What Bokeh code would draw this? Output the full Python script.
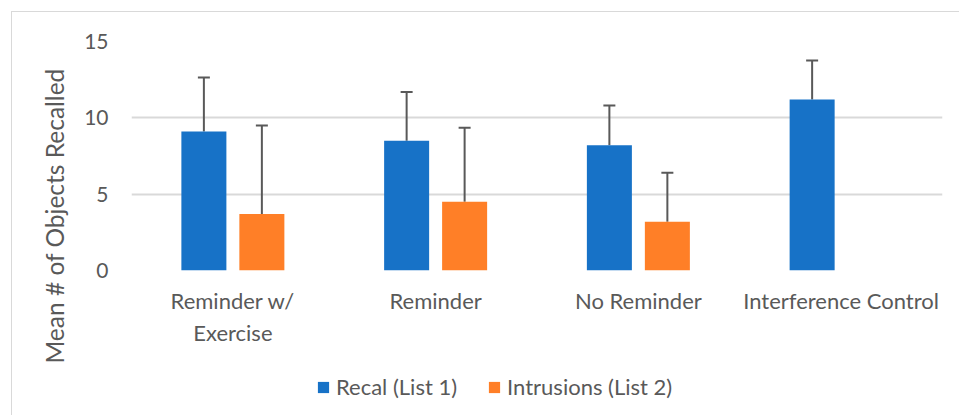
from bokeh.plotting import figure
from bokeh.models import (FactorRange, ColumnDataSource, Whisker, Legend, LegendItem,
                          FixedTicker, TeeHead, Title, Range1d)
from bokeh.layouts import column
from bokeh.transform import dodge
from bokeh.embed import file_html
from bokeh.resources import INLINE

categories = ["Reminder w/\nExercise", "Reminder", "No Reminder", "Interference Control"]
recall = [9.1, 8.5, 8.2, 11.2]
recall_err = [3.55, 3.2, 2.6, 2.55]
intrusions = [3.7, 4.5, 3.2, None]
intrusions_err = [5.8, 4.85, 3.2, None]
series_names = ["Recal (List 1)", "Intrusions (List 2)"]
y_ticks = [0, 5, 10, 15]

FONT = "Lato"
TXT = "#595959"
BLUE = "#1772c7"
ORANGE = "#ff7f27"
BORDER = "1px solid #d9d9d9"

p = figure(x_range=FactorRange(*categories), y_range=(0, 15), width=948, height=362,
           output_backend="svg", toolbar_location=None,
           min_border_left=119, min_border_right=18, min_border_top=29, min_border_bottom=104)
p.margin = (11, 0, 0, 11)
p.styles = {"border-top": BORDER, "border-left": BORDER}
p.outline_line_color = None
p.background_fill_color = "white"
p.border_fill_color = "white"

src1 = ColumnDataSource(dict(cat=categories, top=recall,
                             upper=[v + e for v, e in zip(recall, recall_err)]))
ic = [c for c, v in zip(categories, intrusions) if v is not None]
iv = [v for v in intrusions if v is not None]
ie = [e for e in intrusions_err if e is not None]
src2 = ColumnDataSource(dict(cat=ic, top=iv, upper=[v + e for v, e in zip(iv, ie)]))

off = 0.143
bw = 0.222
p.vbar(x=dodge("cat", -off, range=p.x_range), top="top", width=bw, source=src1,
       fill_color=BLUE, line_color=None)
p.vbar(x=dodge("cat", off, range=p.x_range), top="top", width=bw, source=src2,
       fill_color=ORANGE, line_color=None)

for src, o in ((src1, -off), (src2, off)):
    w = Whisker(source=src, base=dodge("cat", o, range=p.x_range), lower="top", upper="upper",
                line_color=TXT, line_width=2,
                upper_head=TeeHead(size=12, line_color=TXT, line_width=2), lower_head=None)
    p.add_layout(w)

p.ygrid.ticker = FixedTicker(ticks=y_ticks)
p.ygrid.grid_line_color = "#d9d9d9"
p.ygrid.grid_line_width = 2
p.xgrid.grid_line_color = None

p.yaxis.ticker = FixedTicker(ticks=y_ticks)
p.yaxis.axis_line_color = None
p.yaxis.major_tick_line_color = None
p.yaxis.minor_tick_line_color = None
p.yaxis.major_tick_out = 0
p.yaxis.major_label_standoff = 23
p.yaxis.major_label_text_font = FONT
p.yaxis.major_label_text_font_size = "21px"
p.yaxis.major_label_text_color = TXT

ytitle = Title(text="Mean # of Objects Recalled", align="left", offset=-93, standoff=26,
               text_font=FONT, text_font_size="24.5px", text_font_style="normal",
               text_color=TXT)
p.add_layout(ytitle, "left")

p.xaxis.axis_line_color = None
p.xaxis.major_tick_line_color = None
p.xaxis.major_tick_out = 0
p.xaxis.major_label_standoff = 16
p.xaxis.major_label_text_font = FONT
p.xaxis.major_label_text_font_size = "22px"
p.xaxis.major_label_text_color = TXT

# legend strip (frame is aligned with the chart frame by the column layout)
q = figure(width=948, height=42, output_backend="svg", toolbar_location=None,
           x_range=Range1d(0, 1), y_range=Range1d(0, 1),
           x_axis_location=None, y_axis_location=None,
           min_border_left=0, min_border_right=0, min_border_top=0, min_border_bottom=0)
q.margin = (0, 0, 0, 11)
q.styles = {"border-left": BORDER}
q.outline_line_color = None
q.grid.grid_line_color = None
q.border_fill_color = "white"
l1 = q.vbar(x=[-5], top=[-5], width=0.1, fill_color=BLUE, line_color=None)
l2 = q.vbar(x=[-5], top=[-5], width=0.1, fill_color=ORANGE, line_color=None)
legend = Legend(items=[LegendItem(label=series_names[0], renderers=[l1]),
                       LegendItem(label=series_names[1], renderers=[l2])],
                orientation="horizontal", location=(185, 15),
                padding=0, margin=0, spacing=30, border_line_color=None,
                background_fill_alpha=0, glyph_width=14, glyph_height=14,
                label_standoff=6, label_height=20,
                label_text_font=FONT, label_text_font_size="22px", label_text_color=TXT)
q.add_layout(legend, "center")

lay = column(p, q, spacing=0)
open("out.html", "w").write(file_html(lay, INLINE))
